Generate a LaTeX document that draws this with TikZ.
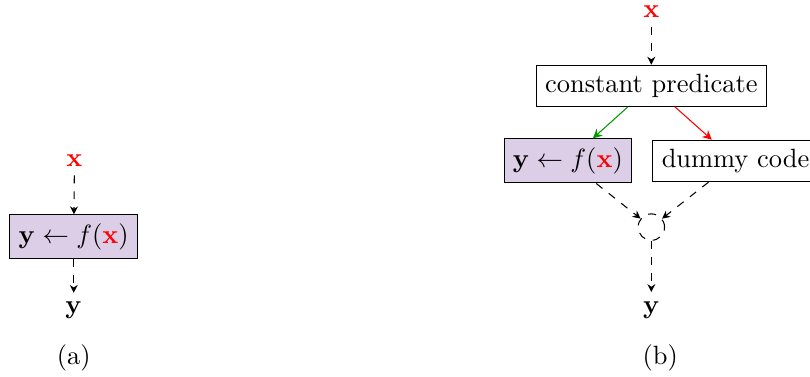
\documentclass[tikz,border=0pt]{standalone}
\usepackage{amsmath}
\usepackage{tikz}
\usetikzlibrary{arrows.meta}
\definecolor{fnfill}{RGB}{221,206,232}
\tikzset{
  fnbox/.style={draw, fill=fnfill},
  plainbox/.style={draw},
  flow/.style={dashed, -{Stealth[length=3pt,width=3pt]}},
  branch/.style={-{Stealth[length=3.5pt,width=3.5pt]}},
}
\newcommand{\inx}{\textcolor{red}{\mathbf{x}}}

\begin{document}
\begin{tikzpicture}
  \useasboundingbox (0,0) rectangle (10.77,5.00);
  % (a) plain function call
  \node (xa) at (0.99,2.87) {$\inx$};
  \node[fnbox] (fa) at (0.98,1.85) {$\mathbf{y} \leftarrow f(\inx)$};
  \node (ya) at (0.98,0.87) {$\mathbf{y}$};
  \draw[flow] (xa) -- (fa);
  \draw[flow] (fa) -- (ya);
  \node (capa) at (0.98,0.24) {(a)};
  % (b) with opaque predicate
  \node (xb) at (8.66,4.84) {$\inx$};
  \node[plainbox] (cp) at (8.66,3.86) {constant predicate};
  \node[fnbox] (fb) at (7.55,2.86) {$\mathbf{y} \leftarrow f(\inx)$};
  \node[plainbox] (dc) at (9.78,2.86) {dummy code};
  \node[circle, draw, dashed, minimum size=10pt, inner sep=0pt] (mg) at (8.66,1.98) {};
  \node (yb) at (8.66,0.88) {$\mathbf{y}$};
  \draw[flow] (xb) -- (cp);
  \draw[branch, green!60!black] (cp) -- (fb);
  \draw[branch, red] (cp) -- (dc);
  \draw[flow] (fb) -- (mg);
  \draw[flow] (dc) -- (mg);
  \draw[flow] (mg) -- (yb);
  \node (capb) at (8.78,0.24) {(b)};
\end{tikzpicture}
\end{document}
